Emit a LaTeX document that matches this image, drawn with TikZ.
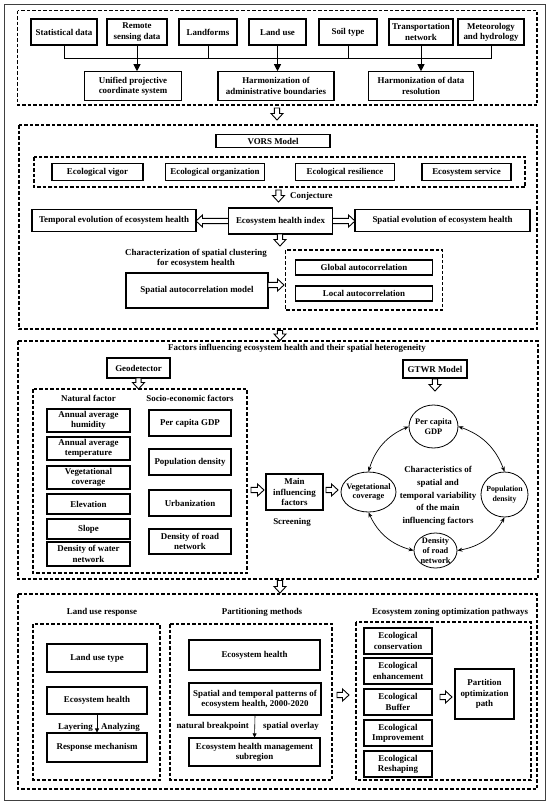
\documentclass[tikz,border=0pt]{standalone}
\usepackage{fontspec}
\setmainfont{Liberation Serif}
\usetikzlibrary{arrows.meta,shapes.geometric,calc}
\newcommand\hollowarr[4]{\begin{scope}[shift={(#1,#2)},rotate=#3]
\draw[line width=0.9pt, fill=white, line join=miter] (0,2.6) -- ({#4-6.5},2.6) -- ({#4-6.5},6) -- (#4,0) -- ({#4-6.5},-6) -- ({#4-6.5},-2.6) -- (0,-2.6) -- cycle;
\end{scope}}
\begin{document}
\begin{tikzpicture}[x=1pt,y=-1pt,
  font=\fontsize{8.9}{10.2}\selectfont\bfseries,
  box/.style={draw, line width=1.1pt, align=center, inner sep=1pt},
  dbox/.style={draw, line width=1.25pt, dash pattern=on 3.5pt off 2pt},
  circ/.style={draw, ellipse, line width=0.8pt, inner sep=0pt},
  ctext/.style={align=center, inner sep=0pt, font=\fontsize{8.4}{9.8}\selectfont\bfseries},
  conn/.style={line width=1pt},
  arr/.style={line width=1pt, -{Triangle[length=7pt,width=7pt]}},
  thinarr/.style={line width=0.6pt, -{Triangle[length=4pt,width=4pt]}},
  dbl/.style={line width=0.7pt, {Stealth[length=5pt,width=4pt]}-{Stealth[length=5pt,width=4pt]}},
  lbl/.style={align=center, inner sep=0pt},
]
\useasboundingbox (0,0) rectangle (550,804);
\draw[line width=1pt, black!75] (4,4) rectangle (545,800);

% ---------- Section 1 ----------
\draw[dbox] (17.5,10.5) rectangle (537,105);
\node[box, minimum width=66, minimum height=26] (stat) at (64,32) {Statistical data};
\node[box, minimum width=60, minimum height=26] (remote) at (137,32) {Remote\\sensing data};
\node[box, minimum width=58, minimum height=26] (landf) at (208,32) {Landforms};
\node[box, minimum width=57, minimum height=26] (landu) at (277.5,32) {Land use};
\node[box, minimum width=58, minimum height=26] (soil) at (348,32) {Soil type};
\node[box, minimum width=64, minimum height=26] (trans) at (421,32) {Transportation\\network};
\node[box, minimum width=66, minimum height=26] (meteo) at (491,32) {Meteorology\\and hydrology};
\coordinate (bus) at (0,58);
\draw[conn] (stat.south) -- (stat.south |- bus) -- (meteo.south |- bus) -- (meteo.south);
\foreach \n in {remote,landf,landu,soil,trans} \draw[conn] (\n.south) -- (\n.south |- bus);
\node[box, minimum width=97, minimum height=28.5] (unif) at (133,86) {Unified projective\\coordinate system};
\node[box, minimum width=116, minimum height=28.5] (hadm) at (276,86) {Harmonization of\\administrative boundaries};
\node[box, minimum width=105.5, minimum height=28.5] (hres) at (421,86) {Harmonization of data\\resolution};
\draw[arr] (remote.south |- bus) -- (remote.south |- unif.north);
\draw[arr] (landu.south |- bus) -- (landu.south |- hadm.north);
\draw[arr] (trans.south |- bus) -- (trans.south |- hres.north);
\hollowarr{277}{108}{-90}{12}

% ---------- Section 2 ----------
\draw[dbox] (19,125) rectangle (537,329);
\node[box, minimum width=114, minimum height=13] (vors) at (273,141) {VORS Model};
\draw[dbox] (34,157) rectangle (525,187);
\node[box, minimum width=91, minimum height=17.5] (vig) at (97.5,172) {Ecological vigor};
\node[box, minimum width=98.5, minimum height=17.5] (org) at (215,172) {Ecological organization};
\node[box, minimum width=99.5, minimum height=17.5] (res) at (345,172) {Ecological resilience};
\node[box, minimum width=89, minimum height=17.5] (serv) at (466.5,172) {Ecosystem service};
\hollowarr{278.5}{190}{-90}{12}
\node[lbl, anchor=west] (conj) at (290,196) {Conjecture};
\node[box, minimum width=164, minimum height=22] (temp) at (114,220.5) {Temporal evolution of ecosystem health};
\node[box, minimum width=104, minimum height=26] (ehi) at (280.5,221) {Ecosystem health index};
\node[box, minimum width=175, minimum height=22] (spat) at (442.5,220.5) {Spatial evolution of ecosystem health};
\hollowarr{228.5}{221}{180}{32.5}
\hollowarr{332.5}{221}{0}{22.5}
\hollowarr{280}{234}{-90}{12}
\node[lbl] (charlbl) at (196,258.5) {Characterization of spatial clustering\\for ecosystem health};
\node[box, minimum width=142, minimum height=35] (sacm) at (197,290.5) {Spatial autocorrelation model};
\hollowarr{268}{285}{0}{16}
\draw[dbox] (285.5,250) rectangle (442.5,310);
\node[box, minimum width=136.5, minimum height=15] (glob) at (364,267.5) {Global autocorrelation};
\node[box, minimum width=136.5, minimum height=15] (loc) at (364,293.5) {Local autocorrelation};
\hollowarr{280}{330.5}{-90}{10}

% ---------- Section 3 ----------
\draw[dbox] (18,341) rectangle (538,579);
\node[lbl] (title3) at (297,348.5) {Factors influencing ecosystem health and their spatial heterogeneity};
\node[box, minimum width=63, minimum height=20] (geo) at (138.5,368) {Geodetector};
\hollowarr{138.5}{378}{-90}{11}
\draw[dbox] (33,389) rectangle (247,573);
\node[lbl] (natl) at (88.5,398.5) {Natural factor};
\node[lbl] (socl) at (190,398.5) {Socio-economic factors};
\node[box, minimum width=83, minimum height=23] (hum) at (88.5,420.5) {Annual average\\humidity};
\node[box, minimum width=83, minimum height=23] (tmpr) at (88.5,448.5) {Annual average\\temperature};
\node[box, minimum width=83, minimum height=23] (vegc) at (88.5,477.5) {Vegetational\\coverage};
\node[box, minimum width=83, minimum height=20] (elev) at (88.5,504) {Elevation};
\node[box, minimum width=83, minimum height=20] (slope) at (88.5,529) {Slope};
\node[box, minimum width=83, minimum height=24] (water) at (88.5,554) {Density of water\\network};
\node[box, minimum width=82, minimum height=26] (gdp) at (190,423) {Per capita GDP};
\node[box, minimum width=82, minimum height=26] (popd) at (190,462) {Population density};
\node[box, minimum width=82, minimum height=26] (urb) at (190,503) {Urbanization};
\node[box, minimum width=82, minimum height=25] (roadd) at (190,541.5) {Density of road\\network};
\hollowarr{251}{490}{0}{13}
\node[box, minimum width=57, minimum height=36] (main) at (294.5,492) {Main\\influencing\\factors};
\node[lbl] (scr) at (292,522) {Screening};
\hollowarr{326}{490}{0}{12}
\node[box, minimum width=64, minimum height=18] (gtwr) at (435,369) {GTWR Model};
\hollowarr{435}{379}{-90}{12}
\node[circ, minimum width=49, minimum height=43] (cgdp) at (433.5,426.5) {};
\node[ctext] (cgdpt) at (cgdp) {Per capita\\GDP};
\node[circ, minimum width=55, minimum height=40] (cveg) at (368.5,492) {};
\node[ctext] (cvegt) at (cveg) {Vegetational\\coverage};
\node[circ, minimum width=47, minimum height=45] (cpop) at (504.5,494.5) {};
\node[ctext, font=\fontsize{7.8}{9.6}\selectfont\bfseries] (cpopt) at (cpop) {Population\\density};
\node[circ, minimum width=43, minimum height=35] (croad) at (435.5,550.5) {};
\node[ctext] (croadt) at (croad) {Density\\of road\\network};
\node[lbl, font=\fontsize{8.9}{12.8}\selectfont\bfseries] (chr) at (438,496) {Characteristics of\\spatial and\\temporal variability\\of the main\\influencing factors};
\draw[dbl] (cgdp.east) to[bend left=25] (cpop.north);
\draw[dbl] (cgdp.west) to[bend right=25] (cveg.north);
\draw[dbl] (cveg.south) to[bend right=25] (croad.west);
\draw[dbl] (croad.east) to[bend right=25] (cpop.south);
\hollowarr{280}{580.5}{-90}{12.5}

% ---------- Section 4 ----------
\draw[dbox] (18,594) rectangle (537,789);
\node[lbl] (lur) at (102,612) {Land use response};
\node[lbl] (pm) at (262,612) {Partitioning methods};
\node[lbl] (ezo) at (450,612) {Ecosystem zoning optimization pathways};
\draw[dbox] (33,624) rectangle (160,780);
\node[box, minimum width=100, minimum height=28] (lut) at (97,658) {Land use type};
\node[box, minimum width=100, minimum height=27] (leh) at (97,700.5) {Ecosystem health};
\node[box, minimum width=100, minimum height=29] (resp) at (97,747.5) {Response mechanism};
\draw[thinarr] (leh.south) -- (resp.north);
\node[lbl, anchor=east] (lay) at (93,727) {Layering};
\node[lbl, anchor=west] (ana) at (101,727) {Analyzing};
\draw[dbox] (170,624) rectangle (332,780);
\node[box, minimum width=131, minimum height=30] (peh) at (254.5,655) {Ecosystem health};
\node[box, minimum width=132, minimum height=32] (pst) at (255,699) {Spatial and temporal patterns of\\ecosystem health, 2000-2020};
\node[box, minimum width=131, minimum height=28] (pmg) at (254.5,752) {Ecosystem health management\\subregion};
\draw[thinarr] (pst.south) -- (pmg.north);
\node[lbl, anchor=east] (nb) at (249,726) {natural breakpoint};
\node[lbl, anchor=west] (so) at (263,726) {spatial overlay};
\hollowarr{337}{695}{0}{12}
\draw[dbox] (356,622) rectangle (531,780);
\node[box, minimum width=68, minimum height=26] (z1) at (398,641) {Ecological\\conservation};
\node[box, minimum width=68, minimum height=26] (z2) at (398,671) {Ecological\\enhancement};
\node[box, minimum width=68, minimum height=26] (z3) at (398,702) {Ecological\\Buffer};
\node[box, minimum width=68, minimum height=26] (z4) at (398,733) {Ecological\\Improvement};
\node[box, minimum width=68, minimum height=26] (z5) at (398,764) {Ecological\\Reshaping};
\hollowarr{440}{697}{0}{12}
\node[box, minimum width=59, minimum height=50] (popt) at (484.5,694) {Partition\\optimization\\path};
\end{tikzpicture}
\end{document}
